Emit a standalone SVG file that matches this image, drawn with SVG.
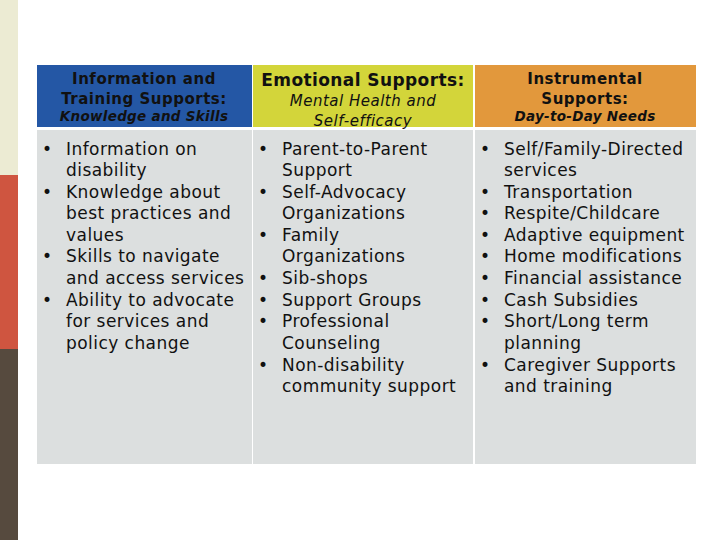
<svg xmlns="http://www.w3.org/2000/svg" width="720" height="540" viewBox="0 0 720 540">
<style>
.b{font-family:"DejaVu Sans",Verdana,sans-serif;font-size:17px;letter-spacing:0.45px;fill:#111}
.h{font-family:"DejaVu Sans",Verdana,sans-serif;font-weight:bold;font-size:15px;letter-spacing:0.5px;fill:#111}
.hi{font-family:"DejaVu Sans",Verdana,sans-serif;font-weight:bold;font-style:italic;font-size:13.5px;letter-spacing:0.3px;fill:#111}
.i{font-family:"DejaVu Sans",Verdana,sans-serif;font-style:italic;font-size:15px;letter-spacing:0.5px;fill:#111}
</style>
<rect width="720" height="540" fill="#fff"/>
<rect x="0" y="0" width="18" height="175" fill="#ecebd3"/>
<rect x="0" y="175" width="18" height="174" fill="#cf5540"/>
<rect x="0" y="349" width="18" height="191" fill="#564a3e"/>
<g id="col1">
<rect x="37" y="65" width="215" height="62" fill="#2457a5"/>
<rect x="37" y="130" width="215" height="334" fill="#dcdfdf"/>
<text class="h" text-anchor="middle" x="144" y="84">Information and</text>
<text class="h" text-anchor="middle" x="144" y="104">Training Supports:</text>
<text class="hi" text-anchor="middle" x="144" y="121">Knowledge and Skills</text>
<text class="b"><tspan x="42" y="155">•</tspan><tspan x="66">Information on</tspan><tspan x="66" y="176">disability</tspan><tspan x="42" y="198">•</tspan><tspan x="66">Knowledge about</tspan><tspan x="66" y="219">best practices and</tspan><tspan x="66" y="241">values</tspan><tspan x="42" y="262">•</tspan><tspan x="66">Skills to navigate</tspan><tspan x="66" y="284">and access services</tspan><tspan x="42" y="306">•</tspan><tspan x="66">Ability to advocate</tspan><tspan x="66" y="327">for services and</tspan><tspan x="66" y="349">policy change</tspan></text>
</g>
<g id="col2">
<rect x="253" y="65" width="220" height="62" fill="#d3d53a"/>
<rect x="253" y="130" width="220" height="334" fill="#dcdfdf"/>
<text class="h" text-anchor="middle" x="363" y="86" style="font-size:17px;letter-spacing:0.4px">Emotional Supports:</text>
<text class="i" text-anchor="middle" x="363" y="106">Mental Health and</text>
<text class="i" text-anchor="middle" x="363" y="126">Self-efficacy</text>
<text class="b"><tspan x="258" y="155">•</tspan><tspan x="282">Parent-to-Parent</tspan><tspan x="282" y="176">Support</tspan><tspan x="258" y="198">•</tspan><tspan x="282">Self-Advocacy</tspan><tspan x="282" y="219">Organizations</tspan><tspan x="258" y="241">•</tspan><tspan x="282">Family</tspan><tspan x="282" y="262">Organizations</tspan><tspan x="258" y="284">•</tspan><tspan x="282">Sib-shops</tspan><tspan x="258" y="306">•</tspan><tspan x="282">Support Groups</tspan><tspan x="258" y="327">•</tspan><tspan x="282">Professional</tspan><tspan x="282" y="349">Counseling</tspan><tspan x="258" y="371">•</tspan><tspan x="282">Non-disability</tspan><tspan x="282" y="392">community support</tspan></text>
</g>
<g id="col3">
<rect x="475" y="65" width="221" height="62" fill="#e2983c"/>
<rect x="475" y="130" width="221" height="334" fill="#dcdfdf"/>
<text class="h" text-anchor="middle" x="585" y="84">Instrumental</text>
<text class="h" text-anchor="middle" x="585" y="104">Supports:</text>
<text class="hi" text-anchor="middle" x="585" y="121">Day-to-Day Needs</text>
<text class="b"><tspan x="480" y="155">•</tspan><tspan x="504">Self/Family-Directed</tspan><tspan x="504" y="176">services</tspan><tspan x="480" y="198">•</tspan><tspan x="504">Transportation</tspan><tspan x="480" y="219">•</tspan><tspan x="504">Respite/Childcare</tspan><tspan x="480" y="241">•</tspan><tspan x="504">Adaptive equipment</tspan><tspan x="480" y="262">•</tspan><tspan x="504">Home modifications</tspan><tspan x="480" y="284">•</tspan><tspan x="504">Financial assistance</tspan><tspan x="480" y="306">•</tspan><tspan x="504">Cash Subsidies</tspan><tspan x="480" y="327">•</tspan><tspan x="504">Short/Long term</tspan><tspan x="504" y="349">planning</tspan><tspan x="480" y="371">•</tspan><tspan x="504">Caregiver Supports</tspan><tspan x="504" y="392">and training</tspan></text>
</g>
<g id="connectors"/>
</svg>
